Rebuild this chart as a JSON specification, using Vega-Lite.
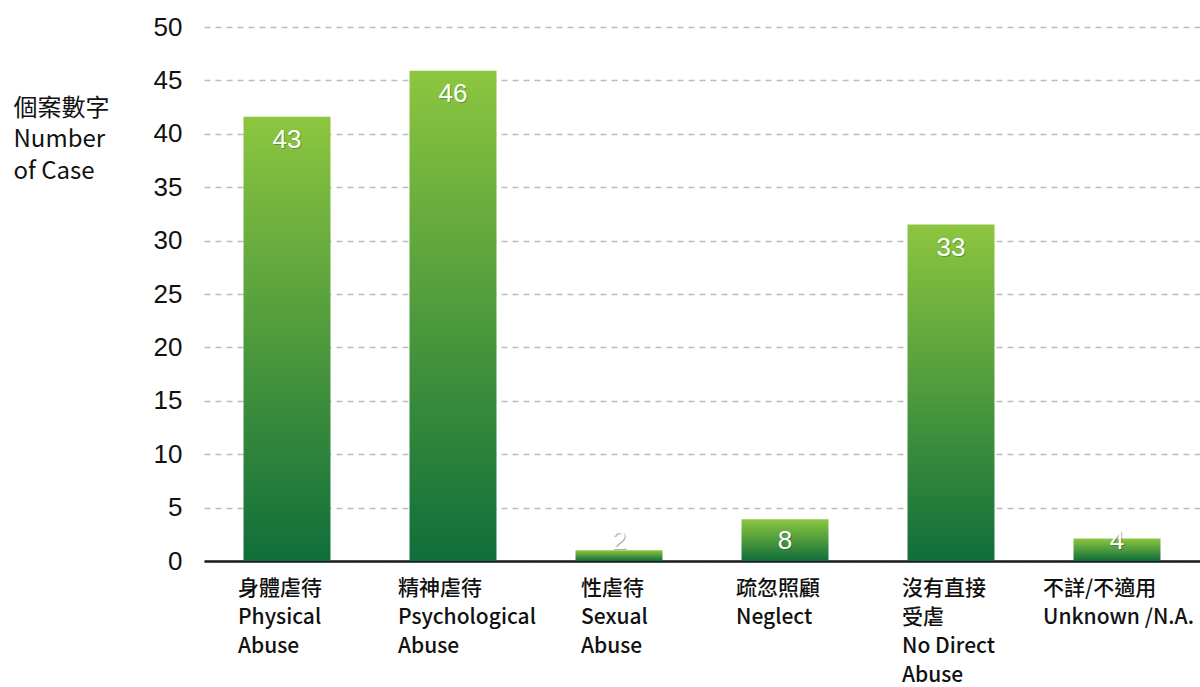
{
  "$schema": "https://vega.github.io/schema/vega-lite/v6.json",
  "autosize": {"type": "none"},
  "width": 996,
  "height": 534,
  "padding": {"left": 204, "top": 27, "right": 0, "bottom": 126},
  "background": "white",
  "data": {
    "values": [
      {"cat": "身體虐待|Physical|Abuse", "height": 41.6, "label": "43"},
      {"cat": "精神虐待|Psychological|Abuse", "height": 45.9, "label": "46"},
      {"cat": "性虐待|Sexual|Abuse", "height": 1.0, "label": "2"},
      {"cat": "疏忽照顧|Neglect", "height": 3.9, "label": "8"},
      {"cat": "沒有直接|受虐|No Direct|Abuse", "height": 31.5, "label": "33"},
      {"cat": "不詳/不適用|Unknown /N.A.", "height": 2.1, "label": "4"}
    ]
  },
  "config": {
    "view": {"stroke": null},
    "font": "Liberation Sans"
  },
  "encoding": {
    "x": {
      "field": "cat",
      "type": "nominal",
      "sort": null,
      "scale": {"paddingInner": 0.476, "paddingOuter": 0.238},
      "axis": {
        "title": null,
        "labelAngle": 0,
        "labelExpr": "split(datum.label, '|')",
        "labelAlign": "left",
        "labelBaseline": "top",
        "labelOffset": {
          "condition": [
            {"test": "indexof(datum.value, '不詳') >= 0", "value": -74},
            {"test": "indexof(datum.value, '性虐待') >= 0", "value": -38},
            {"test": "indexof(datum.value, '精神') >= 0", "value": -55}
          ],
          "value": -49
        },
        "labelPadding": 16,
        "labelFont": "Noto Sans CJK TC",
        "labelFontSize": 21,
        "labelFontWeight": 500,
        "labelLineHeight": 29,
        "labelColor": "#111111",
        "labelLimit": 300,
        "ticks": false,
        "domainColor": "#1a1a1a",
        "domainWidth": 2.5,
        "grid": false
      }
    },
    "y": {
      "field": "height",
      "type": "quantitative",
      "scale": {"domain": [0, 50], "nice": false},
      "axis": {
        "values": [0, 5, 10, 15, 20, 25, 30, 35, 40, 45, 50],
        "title": ["個案數字", "Number", "of Case"],
        "titleAngle": 0,
        "titleAlign": "left",
        "titleBaseline": "top",
        "titleX": -191,
        "titleY": 69,
        "titleFont": "Noto Sans CJK TC",
        "titleFontSize": 24,
        "titleFontWeight": "normal",
        "titleLineHeight": 31.5,
        "titleColor": "#111111",
        "labelFont": "Liberation Sans",
        "labelFontSize": 26,
        "labelColor": "#111111",
        "labelPadding": 22,
        "ticks": false,
        "domain": false,
        "grid": true,
        "gridColor": "#bdbdbd",
        "gridDash": [6, 5],
        "gridWidth": 1.5
      }
    }
  },
  "layer": [
    {
      "mark": {
        "type": "bar",
        "fill": {
          "gradient": "linear",
          "x1": 0, "y1": 0, "x2": 0, "y2": 1,
          "stops": [
            {"offset": 0, "color": "#8dc63f"},
            {"offset": 1, "color": "#0f6e3a"}
          ]
        }
      }
    },
    {
      "transform": [{"filter": "datum.height >= 10"}],
      "mark": {"type": "text", "color": "#1d4d10", "opacity": 0.35, "fontSize": 26, "baseline": "middle", "dy": 24, "dx": 1},
      "encoding": {"text": {"field": "label"}}
    },
    {
      "transform": [{"filter": "datum.height >= 10"}],
      "mark": {"type": "text", "color": "white", "fontSize": 26, "baseline": "middle", "dy": 23},
      "encoding": {"text": {"field": "label"}}
    },
    {
      "transform": [{"filter": "datum.height < 10"}],
      "mark": {"type": "text", "color": "#333333", "opacity": 0.4, "fontSize": 26, "baseline": "middle", "dy": -19, "dx": 1},
      "encoding": {"text": {"field": "label"}, "y": {"datum": 0, "type": "quantitative"}}
    },
    {
      "transform": [{"filter": "datum.height < 10"}],
      "mark": {"type": "text", "color": "white", "fontSize": 26, "baseline": "middle", "dy": -20},
      "encoding": {"text": {"field": "label"}, "y": {"datum": 0, "type": "quantitative"}}
    }
  ]
}
